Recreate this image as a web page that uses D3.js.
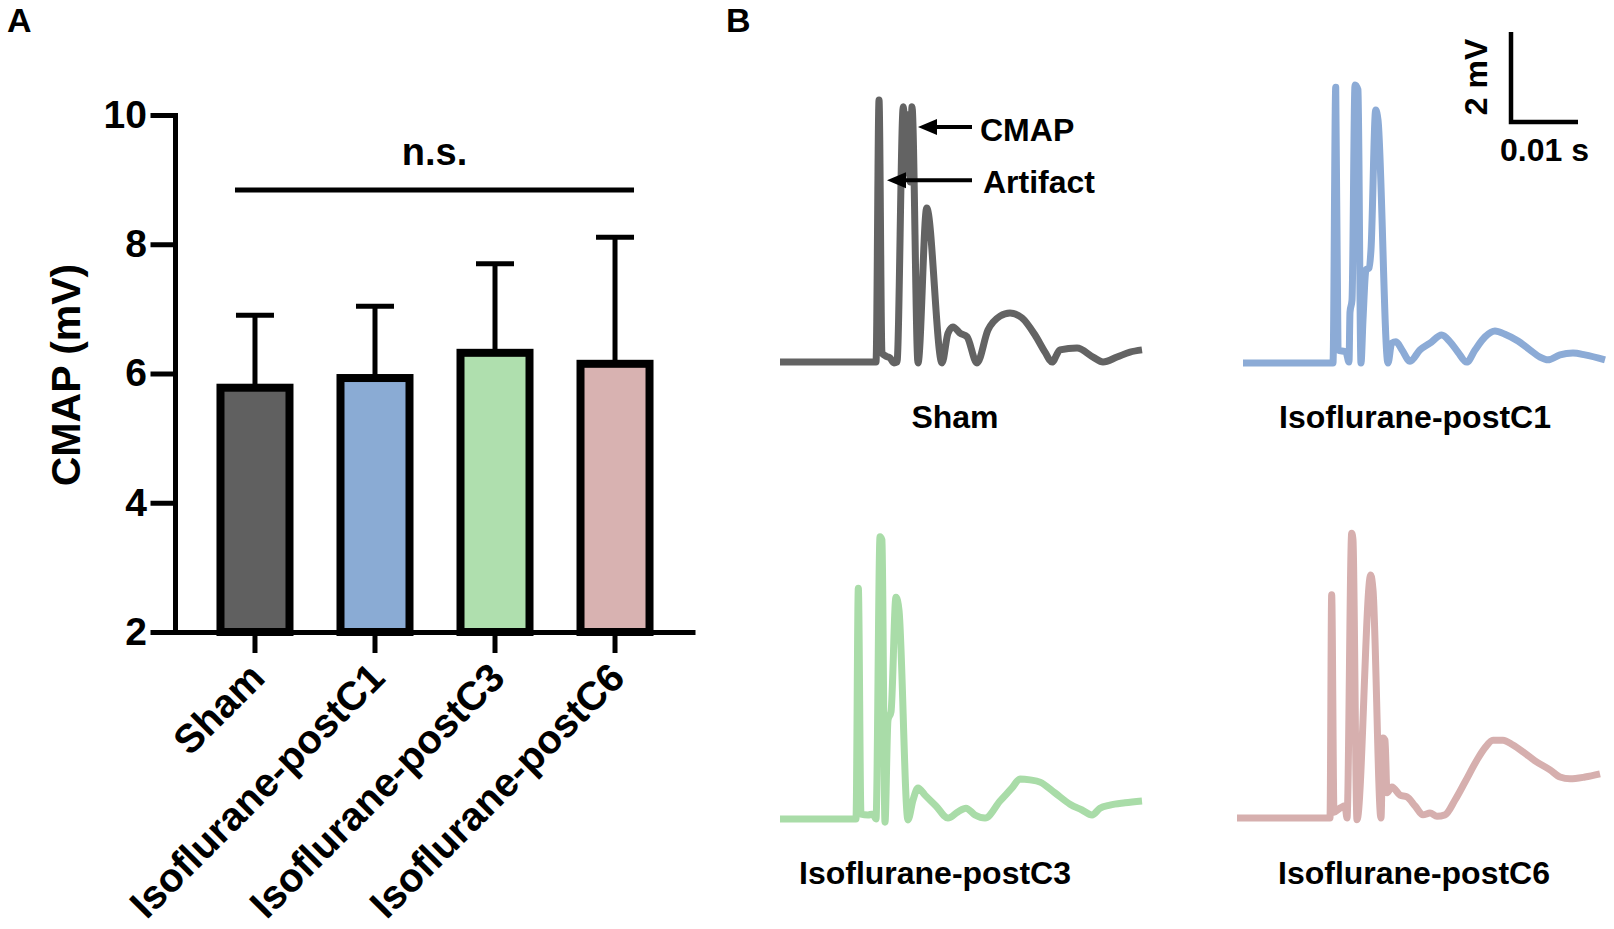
<!DOCTYPE html>
<html>
<head>
<meta charset="utf-8">
<script src="https://cdnjs.cloudflare.com/ajax/libs/d3/7.8.5/d3.min.js"></script>
<style>
  body { margin: 0; background: #fff; }
  svg text { font-family: "Liberation Sans", Arial, sans-serif; font-weight: bold; }
</style>
</head>
<body>
<div class="charts"></div>
<script>

// panel A data
const groups = ['Sham', 'Isoflurane-postC1', 'Isoflurane-postC3', 'Isoflurane-postC6']
const means = [5.78, 5.93, 6.32, 6.15]
const sd = [1.12, 1.11, 1.38, 1.96]
const barColors = ['#606060', '#8aabd4', '#afdfae', '#d8b2b1']
const yTicks = [2, 4, 6, 8, 10]
const nsLevel = 8.84

// panel B traces: [time (ms), voltage (mV)]
const traceSham = [[0, 0], [14.33, 0], [14.78, 5.82], [15.22, 0.2], [15.82, 0.13], [16.42, 0.09], [17.01, -0.02], [17.46, 0],
    [18.4, 5.67], [18.9, 4.2], [19.15, 5.5], [19.45, 4.0], [19.7, 5.67], [20.6, -0.02], [21.9, 3.42], [24.18, -0.02],
    [25.07, 0.64], [25.82, 0.78], [26.87, 0.64], [27.91, 0.56], [29.4, -0.02], [31.04, 0.71], [32.84, 1.02], [34.33, 1.09],
    [36.12, 0.98], [38.06, 0.6], [39.55, 0.22], [40.6, 0], [41.79, 0.27], [44.33, 0.31], [46.72, 0.11], [48.21, 0],
    [50.3, 0.11], [52.24, 0.22], [54.03, 0.27]]

const traceC1 = [[0, 0], [13.43, 0], [13.84, 6.13], [14.18, 0.29], [15.37, 0.24], [15.82, 0.02], [15.97, 1.13], [16.27, 1.4],
    [16.72, 6.18], [17.16, 6.07], [17.61, 0], [17.91, 0.96], [18.36, 2.07], [18.81, 2.11], [19.1, 2.51], [19.81, 5.62],
    [20.15, 5.4], [21.64, 0], [22.19, 0.44], [22.84, 0.47], [23.73, 0.29], [24.93, 0.04], [26.42, 0.29], [27.91, 0.44],
    [29.66, 0.62], [30.9, 0.47], [32.09, 0.24], [33.39, 0.02], [34.63, 0.29], [36.12, 0.58], [37.61, 0.71], [39.1, 0.64],
    [41.04, 0.49], [42.84, 0.29], [44.33, 0.13], [45.52, 0.07], [47.31, 0.18], [49.25, 0.22], [51.04, 0.18], [54.03, 0.07]]

const traceC3 = [[0, 0], [11.34, 0], [11.69, 5.13], [12.09, 0.11], [13.13, 0.09], [13.88, 0.11], [14.33, 0], [14.93, 6.27],
    [15.22, 6.2], [15.67, -0.07], [16.12, 2.2], [16.57, 2.38], [17.31, 4.93], [17.76, 4.64], [19.1, -0.02], [19.85, 0.42],
    [20.6, 0.69], [21.64, 0.53], [23.28, 0.29], [25.07, 0.02], [26.57, 0.16], [27.76, 0.24], [29.1, 0.09], [30.6, 0.02],
    [32.84, 0.4], [34.63, 0.69], [35.82, 0.89], [37.31, 0.87], [38.81, 0.82], [41.04, 0.58], [43.28, 0.33], [45.07, 0.2],
    [46.57, 0.09], [47.76, 0.24], [49.25, 0.31], [51.49, 0.36], [54.03, 0.4]]

const traceC6 = [[0, 0], [13.88, 0], [14.13, 4.96], [14.48, 0.13], [15.37, 0.22], [16.12, 0.27], [16.42, 0], [17.12, 6.33],
    [17.31, 6.18], [17.91, -0.04], [19.96, 5.4], [20.3, 5.07], [21.49, 0], [21.79, 1.78], [22.09, 1.73], [22.39, 0.56],
    [23.13, 0.69], [24.33, 0.51], [25.37, 0.47], [26.57, 0.27], [27.76, 0.07], [28.81, 0.11], [29.85, 0.04], [31.04, 0.07],
    [32.54, 0.4], [34.03, 0.8], [35.82, 1.29], [37.01, 1.56], [38.21, 1.73], [39.7, 1.73], [41.19, 1.62], [42.69, 1.47],
    [44.48, 1.27], [46.72, 1.07], [48.21, 0.91], [49.7, 0.87], [51.94, 0.91], [54.18, 0.98]]

const traceColors = ['#636363', '#8cabd6', '#a9dca8', '#d6afae']
const scaleBarMs = 10
const scaleBarMv = 2

const width = 1614, height = 929

const svg = d3.select('.charts')
    .append('svg')
    .attr('width', width)
    .attr('height', height)
    .attr('viewBox', [0, 0, width, height].join(' '))
    .style('display', 'block')

svg.append('rect').attr('width', width).attr('height', height).attr('fill', '#fff')

// panel letters
svg.selectAll('.panel-letter')
    .data([['A', 7], ['B', 726]])
    .join('text')
    .attr('class', 'panel-letter')
    .attr('x', d => d[1])
    .attr('y', 32)
    .style('font-size', '34px')
    .text(d => d[0])

// ---------- panel A: bar chart ----------
const x = d3.scaleBand()
    .domain(groups)
    .range([175, 695])
    .paddingInner(0.425)
    .paddingOuter(0.379)

const y = d3.scaleLinear()
    .domain([2, 10])
    .range([632, 115])

const bars = groups.map((g, i) => ({ group: g, mean: means[i], upper: means[i] + sd[i], color: barColors[i] }))

svg.append('g')
    .attr('class', 'bar-chart')
    .call(sel => {

        // error bars (upper only, drawn under the bars)
        sel.selectAll('.err')
            .data(bars)
            .join('g')
            .attr('class', 'err')
            .attr('stroke', '#000')
            .attr('stroke-width', 5)
            .call(sel => {
                sel.append('line')
                    .attr('x1', d => x(d.group) + x.bandwidth() / 2)
                    .attr('x2', d => x(d.group) + x.bandwidth() / 2)
                    .attr('y1', d => y(d.mean))
                    .attr('y2', d => y(d.upper))
                sel.append('line')
                    .attr('x1', d => x(d.group) + x.bandwidth() / 2 - 19)
                    .attr('x2', d => x(d.group) + x.bandwidth() / 2 + 19)
                    .attr('y1', d => y(d.upper))
                    .attr('y2', d => y(d.upper))
            })

        sel.selectAll('.bar')
            .data(bars)
            .join('rect')
            .attr('class', 'bar')
            .attr('x', d => x(d.group))
            .attr('width', x.bandwidth())
            .attr('y', d => y(d.mean))
            .attr('height', d => y(2) - y(d.mean))
            .attr('fill', d => d.color)
            .attr('stroke', '#000')
            .attr('stroke-width', 8)

        // y axis
        sel.append('g')
            .attr('transform', 'translate(175,0)')
            .call(d3.axisLeft(y).tickValues(yTicks).tickSize(22).tickSizeOuter(0).tickPadding(6))
            .call(g => g.selectAll('path, line').attr('stroke', '#000').attr('stroke-width', 5).attr('stroke-linecap', 'square'))
            .call(g => g.selectAll('text').attr('fill', '#000').style('font-size', '39px').style('font-family', null))

        // x axis
        sel.append('g')
            .attr('transform', 'translate(0,632)')
            .call(d3.axisBottom(x).tickSize(21).tickSizeOuter(0))
            .call(g => g.selectAll('path, line').attr('stroke', '#000').attr('stroke-width', 5))
            .call(g => g.selectAll('text').remove())

        sel.selectAll('.x-label')
            .data(groups)
            .join('text')
            .attr('class', 'x-label')
            .attr('transform', d => 'translate(' + (x(d) + x.bandwidth() / 2 + 12) + ',680) rotate(-45)')
            .attr('text-anchor', 'end')
            .style('font-size', '40px')
            .text(d => d)

        sel.append('text')
            .attr('transform', 'translate(80,375) rotate(-90)')
            .attr('text-anchor', 'middle')
            .style('font-size', '41px')
            .text('CMAP (mV)')

        // n.s. bracket
        const left = x(groups[0]) + x.bandwidth() / 2 - 20
        const right = x(groups[3]) + x.bandwidth() / 2 + 19
        sel.append('line')
            .attr('x1', left).attr('x2', right)
            .attr('y1', y(nsLevel)).attr('y2', y(nsLevel))
            .attr('stroke', '#000')
            .attr('stroke-width', 5)
        sel.append('text')
            .attr('x', (left + right) / 2)
            .attr('y', 165)
            .attr('text-anchor', 'middle')
            .style('font-size', '38px')
            .text('n.s.')
    })

// ---------- panel B: CMAP traces ----------
const pxPerMs = 6.7, pxPerMv = 45

const panels = [
    { name: 'Sham', data: traceSham, color: traceColors[0], x0: 780, base: 362, labelX: 955, labelY: 428 },
    { name: 'Isoflurane-postC1', data: traceC1, color: traceColors[1], x0: 1243, base: 363, labelX: 1415, labelY: 428 },
    { name: 'Isoflurane-postC3', data: traceC3, color: traceColors[2], x0: 780, base: 819, labelX: 935, labelY: 884 },
    { name: 'Isoflurane-postC6', data: traceC6, color: traceColors[3], x0: 1237, base: 818, labelX: 1414, labelY: 884 }
]

panels.forEach(p => {
    p.tx = d3.scaleLinear().domain([0, 1]).range([p.x0, p.x0 + pxPerMs])
    p.vy = d3.scaleLinear().domain([0, 1]).range([p.base, p.base - pxPerMv])
})

svg.selectAll('.trace-panel')
    .data(panels)
    .join('g')
    .attr('class', 'trace-panel')
    .call(sel => {

        sel.selectAll('.trace')
            .data(d => [d])
            .join('path')
            .attr('class', 'trace')
            .attr('fill', 'none')
            .attr('stroke', d => d.color)
            .attr('stroke-width', 7)
            .attr('stroke-linejoin', 'round')
            .attr('d', d => d3.line().curve(d3.curveMonotoneX).x(k => d.tx(k[0])).y(k => d.vy(k[1]))(d.data))

        sel.selectAll('.trace-label')
            .data(d => [d])
            .join('text')
            .attr('class', 'trace-label')
            .attr('x', d => d.labelX)
            .attr('y', d => d.labelY)
            .attr('text-anchor', 'middle')
            .style('font-size', '32px')
            .text(d => d.name)
    })

// arrows on the sham trace
const sham = panels[0]
const arrows = [
    { label: 'CMAP', tip: [20.6, 5.22], textX: 980, textY: 141 },
    { label: 'Artifact', tip: [15.97, 4.04], textX: 983, textY: 193 }
]

svg.selectAll('.arrow')
    .data(arrows)
    .join('g')
    .attr('class', 'arrow')
    .call(sel => {
        sel.append('line')
            .attr('x1', d => sham.tx(d.tip[0]) + 14)
            .attr('x2', 972)
            .attr('y1', d => sham.vy(d.tip[1]))
            .attr('y2', d => sham.vy(d.tip[1]))
            .attr('stroke', '#000')
            .attr('stroke-width', 4)
        sel.append('path')
            .attr('d', d => {
                let tx = sham.tx(d.tip[0]), ty = sham.vy(d.tip[1])
                return 'M' + tx + ',' + ty + 'L' + (tx + 19) + ',' + (ty - 8) + 'L' + (tx + 19) + ',' + (ty + 8) + 'Z'
            })
            .attr('fill', '#000')
        sel.append('text')
            .attr('x', d => d.textX)
            .attr('y', d => d.textY)
            .style('font-size', '32px')
            .text(d => d.label)
    })

// scale bar, same units as the traces
const sbX = d3.scaleLinear().domain([0, 1]).range([1511, 1511 + pxPerMs])
const sbY = d3.scaleLinear().domain([0, 1]).range([122, 122 - pxPerMv])

svg.append('g')
    .attr('class', 'scale-bar')
    .call(sel => {
        sel.append('path')
            .attr('d', 'M' + sbX(0) + ',' + sbY(scaleBarMv) + 'V' + sbY(0) + 'H' + sbX(scaleBarMs))
            .attr('fill', 'none')
            .attr('stroke', '#000')
            .attr('stroke-width', 4.5)
        sel.append('text')
            .attr('x', (sbX(0) + sbX(scaleBarMs)) / 2)
            .attr('y', 161)
            .attr('text-anchor', 'middle')
            .style('font-size', '32px')
            .text('0.01 s')
        sel.append('text')
            .attr('transform', 'translate(1487,' + (sbY(0) + sbY(scaleBarMv)) / 2 + ') rotate(-90)')
            .attr('text-anchor', 'middle')
            .style('font-size', '32px')
            .text('2 mV')
    })

</script>
</body>
</html>
